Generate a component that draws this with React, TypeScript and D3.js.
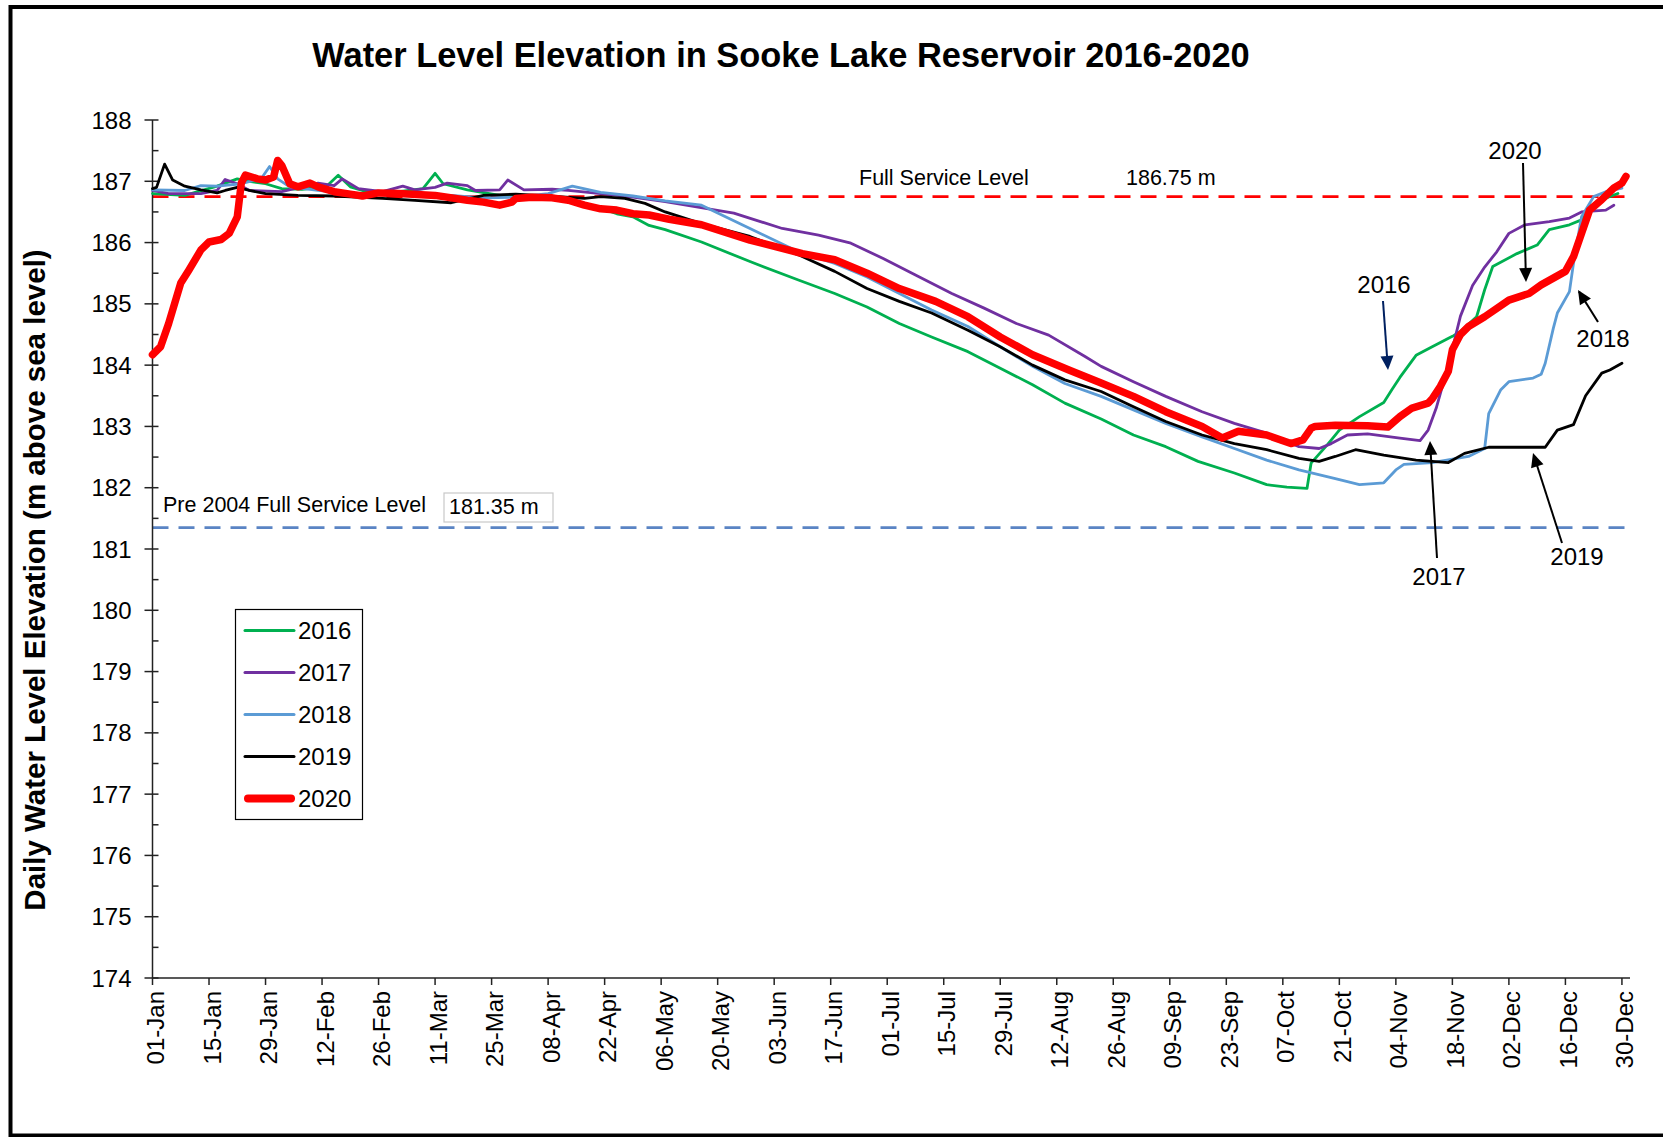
import React from 'react';
import * as d3 from 'd3';

// ---------- DATA ----------
const DAYS_2016 = [0,8,16,21,24,28,32,37,43,46,49,53,61,67,70,72,78,86,94,103,107,111,115,119,123,127,136,148,160,169,177,185,193,202,210,218,226,235,243,251,259,268,276,281,286,287,291,294,299,305,307,309,313,317,322,324,328,330,332,338,343,346,351,354,356,359,363];
const LEVEL_2016 = [186.80,186.77,186.92,187.04,187.00,186.96,186.88,186.87,186.91,187.10,186.91,186.83,186.83,186.88,187.13,186.96,186.86,186.77,186.77,186.70,186.64,186.56,186.47,186.42,186.28,186.21,186.01,185.69,185.39,185.17,184.95,184.68,184.46,184.22,183.95,183.68,183.38,183.12,182.86,182.67,182.43,182.24,182.05,182.01,181.99,182.40,182.70,182.94,183.16,183.39,183.60,183.80,184.16,184.30,184.47,184.55,184.79,185.23,185.61,185.82,185.96,186.21,186.29,186.37,186.59,186.70,186.80];

const DAYS_2017 = [0,4,12,16,18,21,24,32,41,45,47,51,57,62,65,70,73,78,80,86,88,92,99,103,111,119,127,144,156,165,173,181,189,198,206,214,222,231,235,243,251,260,268,276,284,289,292,296,301,309,314,316,318,321,324,327,330,333,336,340,346,351,354,360,362];
const LEVEL_2017 = [186.85,186.80,186.80,186.85,187.03,186.96,186.85,186.83,186.97,186.93,187.04,186.88,186.83,186.92,186.86,186.90,186.97,186.93,186.85,186.86,187.02,186.86,186.87,186.85,186.80,186.74,186.67,186.48,186.23,186.12,185.99,185.74,185.47,185.17,184.93,184.68,184.49,184.14,183.98,183.73,183.49,183.24,183.05,182.89,182.67,182.64,182.72,182.86,182.88,182.81,182.77,182.94,183.30,184.00,184.80,185.30,185.60,185.85,186.15,186.29,186.34,186.40,186.50,186.53,186.61];

const DAYS_2018 = [0,8,12,16,22,27,29,31,34,41,49,57,65,74,82,90,98,104,111,119,127,136,148,160,169,177,185,193,202,210,218,226,235,243,251,260,268,276,284,293,299,305,308,310,317,326,330,331,334,336,342,344,345,347,348,351,352,354,357,360,364];
const LEVEL_2018 = [186.86,186.85,186.93,186.92,186.96,187.05,187.24,187.04,186.91,186.85,186.80,186.80,186.77,186.77,186.73,186.74,186.80,186.92,186.82,186.76,186.68,186.61,186.23,185.85,185.66,185.44,185.17,184.90,184.63,184.30,183.98,183.70,183.49,183.27,183.05,182.83,182.64,182.45,182.29,182.15,182.05,182.08,182.29,182.38,182.41,182.51,182.64,183.21,183.60,183.73,183.79,183.85,184.03,184.60,184.85,185.20,185.66,186.42,186.75,186.83,186.89];

const DAYS_2019 = [0,1,3,5,8,12,16,18,21,24,28,36,45,57,65,74,82,90,98,107,111,117,122,127,136,148,160,169,177,185,193,202,210,218,226,235,243,251,260,268,276,284,289,293,298,305,313,321,325,331,345,348,352,355,359,361,364];
const LEVEL_2019 = [186.88,186.90,187.28,187.02,186.92,186.86,186.81,186.85,186.90,186.85,186.80,186.77,186.76,186.72,186.69,186.65,186.77,186.79,186.76,186.72,186.75,186.72,186.64,186.50,186.31,186.10,185.80,185.53,185.25,185.04,184.85,184.57,184.30,184.00,183.76,183.57,183.32,183.08,182.86,182.72,182.62,182.48,182.43,182.51,182.62,182.53,182.45,182.41,182.56,182.66,182.66,182.94,183.03,183.50,183.87,183.92,184.03];

const DAYS_2020 = [0,2,4,5,7,9,12,14,17,19,21,22,23,26,28,30,31,32,34,36,39,41,45,49,52,56,61,70,78,82,86,89,90,94,99,103,107,111,115,119,123,128,136,148,161,169,177,185,194,202,210,218,227,235,243,251,260,265,269,276,282,285,287,288,293,301,306,309,312,316,317,319,321,322,324,326,330,336,341,344,350,352,354,356,359,362,364,365];
const LEVEL_2020 = [184.17,184.30,184.68,184.90,185.34,185.55,185.88,186.01,186.05,186.15,186.42,186.97,187.10,187.04,187.02,187.07,187.34,187.26,186.96,186.91,186.97,186.91,186.83,186.79,186.76,186.81,186.80,186.77,186.69,186.66,186.61,186.66,186.72,186.74,186.73,186.69,186.61,186.55,186.53,186.47,186.45,186.38,186.29,186.04,185.82,185.72,185.50,185.25,185.04,184.79,184.46,184.17,183.92,183.71,183.49,183.24,183.00,182.81,182.92,182.86,182.72,182.78,182.97,183.00,183.02,183.01,182.99,183.16,183.30,183.38,183.45,183.65,183.90,184.25,184.50,184.63,184.79,185.06,185.17,185.31,185.53,185.77,186.15,186.53,186.70,186.89,186.97,187.08];

const SERIES_NAMES = ['2016', '2017', '2018', '2019', '2020'];
const X_TICK_LABELS = ['01-Jan','15-Jan','29-Jan','12-Feb','26-Feb','11-Mar','25-Mar','08-Apr','22-Apr','06-May','20-May','03-Jun','17-Jun','01-Jul','15-Jul','29-Jul','12-Aug','26-Aug','09-Sep','23-Sep','07-Oct','21-Oct','04-Nov','18-Nov','02-Dec','16-Dec','30-Dec'];
const X_TICK_DAYS = [0,14,28,42,56,70,84,98,112,126,140,154,168,182,196,210,224,238,252,266,280,294,308,322,336,350,364];
const Y_TICKS = [174,175,176,177,178,179,180,181,182,183,184,185,186,187,188];
const FULL_SERVICE_LEVEL = 186.75;
const PRE2004_LEVEL = 181.35;

const FONT = "'Liberation Sans', Arial, Helvetica, sans-serif";

const STYLES: Record<string, { color: string; width: number }> = {
  '2016': { color: '#00b050', width: 2.8 },
  '2017': { color: '#7030a0', width: 2.8 },
  '2018': { color: '#5b9bd5', width: 2.8 },
  '2019': { color: '#000000', width: 2.8 },
  '2020': { color: '#ff0000', width: 7.5 },
};

const SERIES_DATA: Record<string, { days: number[]; levels: number[] }> = {
  '2016': { days: DAYS_2016, levels: LEVEL_2016 },
  '2017': { days: DAYS_2017, levels: LEVEL_2017 },
  '2018': { days: DAYS_2018, levels: LEVEL_2018 },
  '2019': { days: DAYS_2019, levels: LEVEL_2019 },
  '2020': { days: DAYS_2020, levels: LEVEL_2020 },
};

// annotation labels with arrows (pixel layout)
const ANNOTATIONS = [
  { text: '2020', tx: 1515, ty: 159, x1: 1523, y1: 163, x2: 1526, y2: 282, color: '#000000' },
  { text: '2016', tx: 1384, ty: 293, x1: 1383, y1: 301, x2: 1388, y2: 370, color: '#002060' },
  { text: '2018', tx: 1603, ty: 347, x1: 1598, y1: 322, x2: 1578, y2: 290, color: '#000000' },
  { text: '2017', tx: 1439, ty: 585, x1: 1437, y1: 558, x2: 1430, y2: 441, color: '#000000' },
  { text: '2019', tx: 1577, ty: 565, x1: 1562, y1: 543, x2: 1533, y2: 453, color: '#000000' },
];

function arrowHead(x1: number, y1: number, x2: number, y2: number, len = 14, half = 6.5) {
  const dx = x2 - x1, dy = y2 - y1;
  const L = Math.hypot(dx, dy);
  const ux = dx / L, uy = dy / L;
  const bx = x2 - ux * len, by = y2 - uy * len;
  const px = -uy, py = ux;
  return `M${x2},${y2}L${bx + px * half},${by + py * half}L${bx - px * half},${by - py * half}Z`;
}

export default function App() {
  const W = 1663, H = 1137;
  const x = d3.scaleLinear().domain([0, 366]).range([152.5, 1630]);
  const y = d3.scaleLinear().domain([174, 188]).range([978, 120]);

  const line = d3.line<[number, number]>()
    .x((d) => x(d[0]))
    .y((d) => y(d[1]))
    .curve(d3.curveLinear);

  const minorTicks = d3.range(174.5, 188, 1);

  return (
    <div style={{ position: 'absolute', left: 0, top: 0 }}>
      <svg width={W} height={H} style={{ display: 'block', background: '#fff' }} fontFamily={FONT}>
        {/* outer frame */}
        <rect x={10.5} y={7} width={1660} height={1128.5} fill="none" stroke="#000" strokeWidth={4} />

        {/* title */}
        <text x={781} y={67} textAnchor="middle" fontSize={34.4} fontWeight="bold" fill="#000">
          Water Level Elevation in Sooke Lake Reservoir 2016-2020
        </text>

        {/* y axis title */}
        <text transform="translate(45,580) rotate(-90)" textAnchor="middle" fontSize={29.5} fontWeight="bold" fill="#000">
          Daily Water Level Elevation (m above sea level)
        </text>

        {/* reference lines */}
        <line x1={x(0)} x2={x(366)} y1={y(FULL_SERVICE_LEVEL)} y2={y(FULL_SERVICE_LEVEL)}
          stroke="#ff0000" strokeWidth={2.6} strokeDasharray="16 10" />
        <line x1={x(0)} x2={x(366)} y1={y(PRE2004_LEVEL)} y2={y(PRE2004_LEVEL)}
          stroke="#5a84c4" strokeWidth={2.8} strokeDasharray="16 10" />

        <text x={859} y={185} fontSize={21.5} fill="#000">Full Service Level</text>
        <text x={1126} y={185} fontSize={21.5} fill="#000">186.75 m</text>

        <text x={163} y={512} fontSize={21.5} fill="#000">Pre 2004 Full Service Level</text>
        <rect x={444} y={493} width={109} height={29} fill="#fff" stroke="#c8c8c8" strokeWidth={1.2} />
        <text x={449} y={514} fontSize={21.5} fill="#000">181.35 m</text>

        {/* axes */}
        <line x1={x(0)} x2={x(0)} y1={y(188)} y2={y(174)} stroke="#222" strokeWidth={1.5} />
        <line x1={x(0)} x2={x(366)} y1={y(174)} y2={y(174)} stroke="#222" strokeWidth={1.5} />
        {Y_TICKS.map((t) => (
          <g key={'yt' + t}>
            <line x1={x(0) - 8} x2={x(0) + 6} y1={y(t)} y2={y(t)} stroke="#222" strokeWidth={1.5} />
            <text x={131.5} y={y(t)} textAnchor="end" dominantBaseline="central" fontSize={24} fill="#000">{t}</text>
          </g>
        ))}
        {minorTicks.map((t) => (
          <line key={'ym' + t} x1={x(0)} x2={x(0) + 6} y1={y(t)} y2={y(t)} stroke="#222" strokeWidth={1.5} />
        ))}
        {X_TICK_DAYS.map((d, i) => (
          <g key={'xt' + d}>
            <line x1={x(d)} x2={x(d)} y1={y(174)} y2={y(174) + 7} stroke="#222" strokeWidth={1.5} />
            <text transform={`translate(${x(d) + 3},${y(174) + 13}) rotate(-90)`} textAnchor="end"
              dominantBaseline="central" fontSize={24} fill="#000">{X_TICK_LABELS[i]}</text>
          </g>
        ))}

        {/* series */}
        {SERIES_NAMES.map((name) => {
          const s = SERIES_DATA[name];
          const pts = s.days.map((d, i) => [d, s.levels[i]] as [number, number]);
          return (
            <path key={name} d={line(pts) || ''} fill="none" stroke={STYLES[name].color}
              strokeWidth={STYLES[name].width} strokeLinejoin="round" strokeLinecap="round" />
          );
        })}

        {/* legend */}
        <rect x={235.5} y={609.5} width={127} height={210} fill="#fff" stroke="#000" strokeWidth={1.2} />
        {SERIES_NAMES.map((name, i) => {
          const ly = 630.5 + i * 42;
          const st = STYLES[name];
          return (
            <g key={'lg' + name}>
              <line x1={name === '2020' ? 248 : 245} x2={name === '2020' ? 291 : 294} y1={ly} y2={ly}
                stroke={st.color} strokeWidth={name === '2020' ? 8 : 3} strokeLinecap="round" />
              <text x={298} y={ly} dominantBaseline="central" fontSize={24} fill="#000">{name}</text>
            </g>
          );
        })}

        {/* annotations */}
        {ANNOTATIONS.map((a) => (
          <g key={'an' + a.text}>
            <text x={a.tx} y={a.ty} textAnchor="middle" fontSize={24} fill="#000">{a.text}</text>
            <line x1={a.x1} y1={a.y1} x2={a.x2 - (a.x2 - a.x1) * 0.05} y2={a.y2 - (a.y2 - a.y1) * 0.05}
              stroke={a.color} strokeWidth={2} />
            <path d={arrowHead(a.x1, a.y1, a.x2, a.y2)} fill={a.color} />
          </g>
        ))}
      </svg>
    </div>
  );
}
